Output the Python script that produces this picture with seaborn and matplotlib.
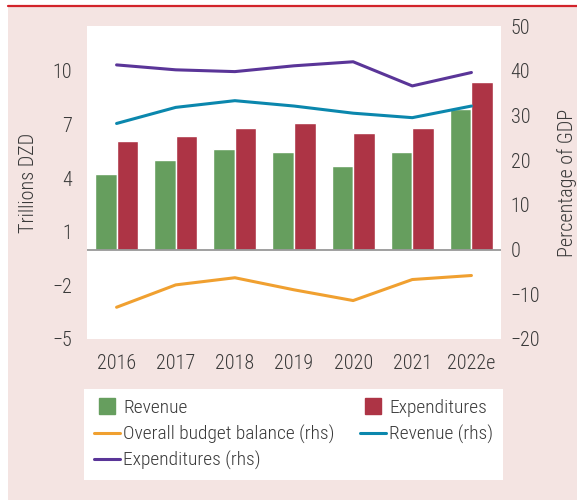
import numpy as np
import pandas as pd
import matplotlib
matplotlib.use("Agg")
import matplotlib.pyplot as plt
from matplotlib.lines import Line2D
from matplotlib.patches import Rectangle
import seaborn as sns

years = ["2016", "2017", "2018", "2019", "2020", "2021", "2022e"]
revenue = [4.2, 5.0, 5.6, 5.45, 4.65, 5.45, 7.85]
expenditures = [6.05, 6.35, 6.8, 7.05, 6.5, 6.8, 9.35]
balance_rhs = [-12.9, -7.9, -6.3, -9.0, -11.4, -6.7, -5.8]
revenue_rhs = [28.2, 31.8, 33.3, 32.1, 30.5, 29.5, 32.1]
expenditures_rhs = [41.3, 40.2, 39.8, 41.1, 42.0, 36.6, 39.6]
left_ticks = [-5, -2, 1, 4, 7, 10]
right_ticks = [-20, -10, 0, 10, 20, 30, 40, 50]

C_GREEN = "#669e5e"
C_RED = "#ad3445"
C_ORANGE = "#f0a030"
C_TEAL = "#0b87ad"
C_PURPLE = "#5a3598"
C_PINK = "#f4e4e2"
C_TEXT = "#3a3a3a"

sns.set_style("white")
plt.rcParams["font.family"] = ["Roboto Condensed", "DejaVu Sans"]
plt.rcParams["font.weight"] = 300
plt.rcParams["axes.labelweight"] = 300
plt.rcParams["text.color"] = C_TEXT
plt.rcParams["axes.labelcolor"] = C_TEXT
plt.rcParams["xtick.color"] = C_TEXT
plt.rcParams["ytick.color"] = C_TEXT

W, H = 577, 500
fig = plt.figure(figsize=(W / 100, H / 100), dpi=100)
fig.patch.set_facecolor("white")
fig.add_artist(Rectangle((8 / W, 0), 1 - 8 / W, 1 - 7 / H, transform=fig.transFigure,
                         facecolor=C_PINK, edgecolor="none", zorder=-10))
fig.add_artist(Line2D([8 / W, 1], [1 - 6 / H, 1 - 6 / H], transform=fig.transFigure,
                      color="#d2232a", lw=1.6))

ax1 = fig.add_axes([87 / W, (H - 339) / H, (501 - 87) / W, (339 - 26) / H])
ax1.set_facecolor("white")

df = pd.DataFrame({
    "year": years * 2,
    "value": revenue + expenditures,
    "series": ["Revenue"] * len(years) + ["Expenditures"] * len(years),
})
sns.barplot(data=df, x="year", y="value", hue="series", order=years,
            hue_order=["Revenue", "Expenditures"],
            palette=[C_GREEN, C_RED], width=0.73, gap=0, saturation=1,
            ax=ax1, legend=False, zorder=2)
ax1.axhline(0, color="#999999", lw=1.3, zorder=3)
ax1.set_ylim(-5, 12.5)
ax1.set_yticks(left_ticks)
ax1.set_xlim(-0.5, len(years) - 0.5)
ax1.set_xlabel("")
ax1.set_ylabel("Trillions DZD", fontsize=14.5, labelpad=10)
ax1.tick_params(axis="both", length=0, labelsize=14.5)
ax1.tick_params(axis="y", pad=11)
ax1.tick_params(axis="x", pad=11)
for s in ax1.spines.values():
    s.set_visible(False)

ax2 = ax1.twinx()
xpos = np.arange(len(years))
sns.lineplot(x=xpos, y=balance_rhs, color=C_ORANGE, lw=2.2, ax=ax2)
sns.lineplot(x=xpos, y=revenue_rhs, color=C_TEAL, lw=2.2, ax=ax2)
sns.lineplot(x=xpos, y=expenditures_rhs, color=C_PURPLE, lw=2.2, ax=ax2)
ax2.set_ylim(-20, 50)
ax2.set_yticks(right_ticks)
ax2.set_xlim(-0.5, len(years) - 0.5)
ax2.set_ylabel("Percentage of GDP", fontsize=14.5, labelpad=12)
ax2.tick_params(axis="y", length=0, labelsize=14.5, pad=7)
for s in ax2.spines.values():
    s.set_visible(False)

handles = [
    Line2D([], [], marker="s", ls="none", markersize=11.5, color=C_GREEN),
    Line2D([], [], color=C_ORANGE, lw=2.2),
    Line2D([], [], color=C_PURPLE, lw=2.2),
    Line2D([], [], marker="s", ls="none", markersize=11.5, color=C_RED),
    Line2D([], [], color=C_TEAL, lw=2.2),
]
labels = ["Revenue", "Overall budget balance (rhs)", "Expenditures (rhs)",
          "Expenditures", "Revenue (rhs)"]
leg = fig.legend(handles, labels, ncol=2, loc="upper left",
                 bbox_to_anchor=(84 / W, (H - 481) / H, (503 - 84) / W, (481 - 389) / H),
                 mode="expand", borderaxespad=0, frameon=True, fancybox=False,
                 facecolor="white", edgecolor="none", framealpha=1,
                 prop={"size": 14, "weight": 300},
                 handlelength=1.35, handletextpad=0.15,
                 labelspacing=0.4, borderpad=0.5)
for t in leg.get_texts():
    t.set_color(C_TEXT)

fig.savefig("out.png", dpi=100, facecolor=fig.get_facecolor())
